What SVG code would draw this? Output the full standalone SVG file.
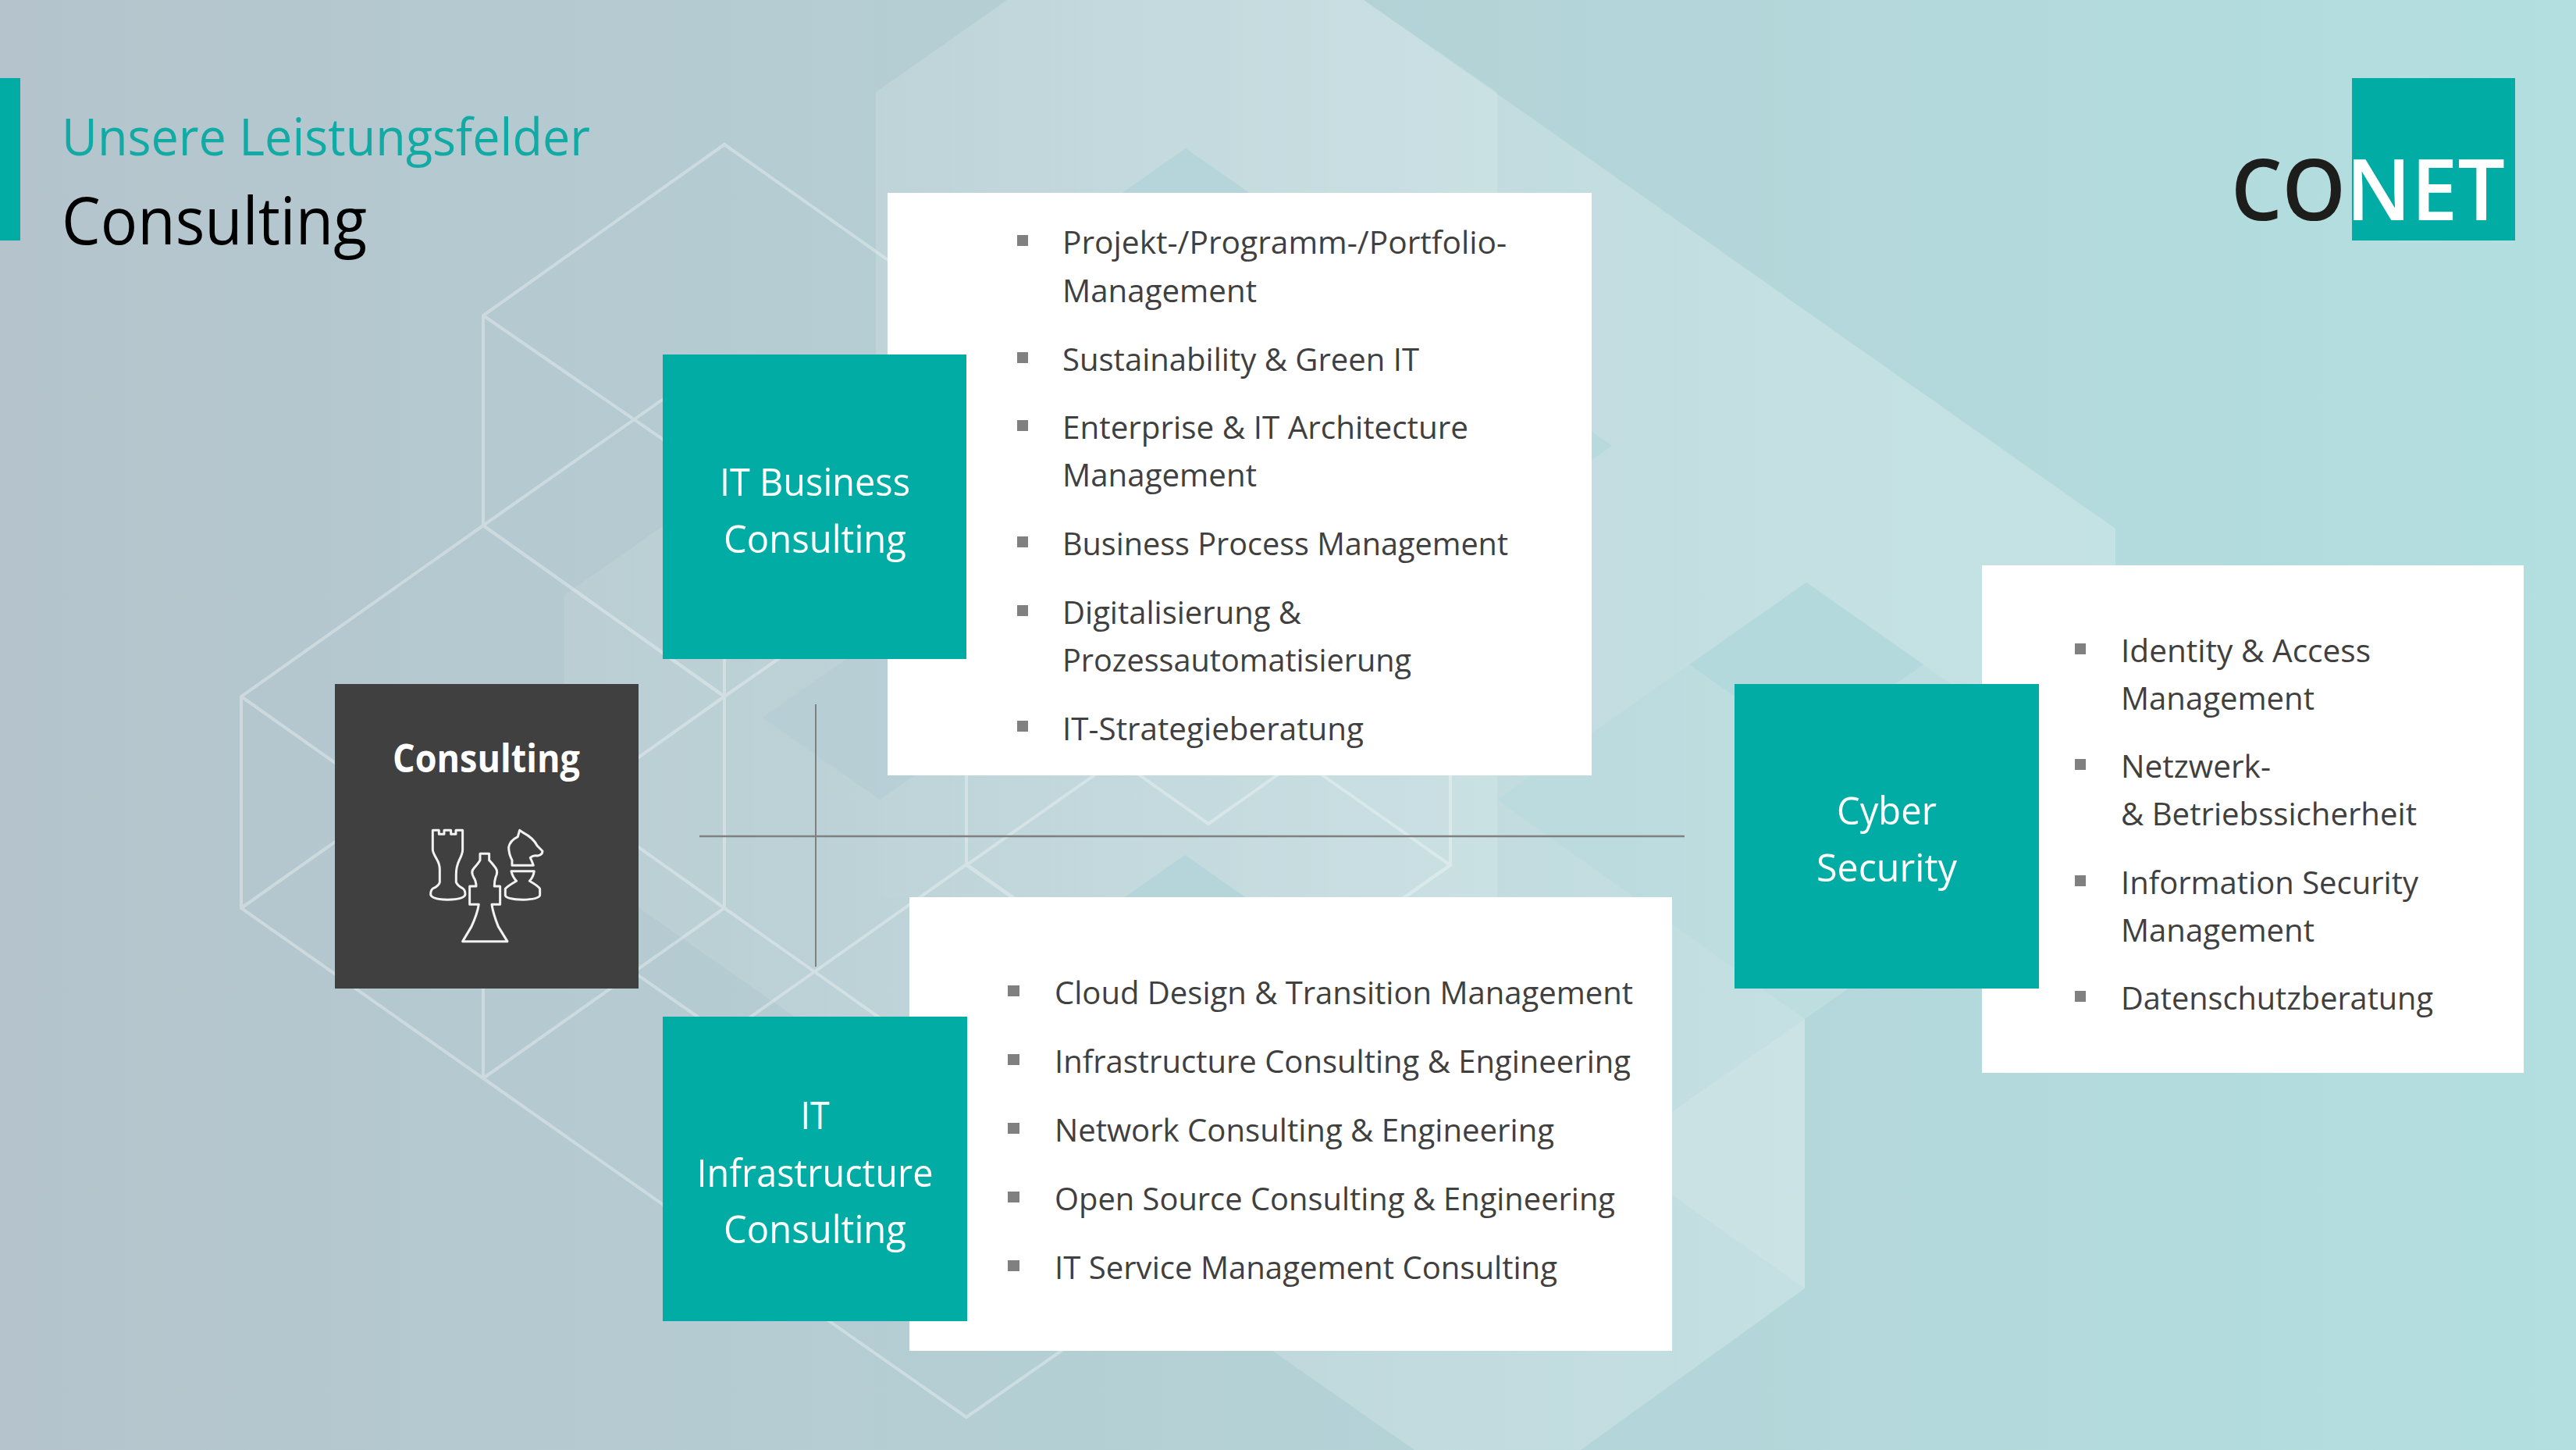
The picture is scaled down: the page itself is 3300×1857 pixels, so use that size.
<svg xmlns="http://www.w3.org/2000/svg" width="3300" height="1857" viewBox="0 0 3300 1857">
<defs>
<linearGradient id="bg" gradientUnits="userSpaceOnUse" x1="0" y1="0" x2="3300" y2="0"><stop offset="0" stop-color="#b5c4cc"/><stop offset="1" stop-color="#b3dfe0"/></linearGradient>
<linearGradient id="env" gradientUnits="userSpaceOnUse" x1="723" y1="0" x2="2300" y2="0"><stop offset="0" stop-color="#fff" stop-opacity=".08"/><stop offset="1" stop-color="#fff" stop-opacity=".22"/></linearGradient>
<linearGradient id="top" gradientUnits="userSpaceOnUse" x1="1122" y1="0" x2="1918" y2="0"><stop offset="0" stop-color="#fff" stop-opacity=".02"/><stop offset="1" stop-color="#fff" stop-opacity=".14"/></linearGradient>
</defs>
<style>
text{font-family:"Open Sans","Liberation Sans",sans-serif}
.wire{fill:none;stroke:#fff;opacity:.32;stroke-width:4}
.panel{fill:#fff}
.teal{fill:#01aca5}
.lab{font-size:50px;fill:#fff;text-anchor:middle}
.li{font-size:41px;fill:#404040}
.bul{fill:#808080}
.conn{stroke:#808080;fill:none}
.chess{fill:none;stroke:#f2f2f2;stroke-width:9;stroke-linejoin:round}
</style>
<g id="background">
<rect width="3300" height="1857" fill="url(#bg)"/>
<polygon fill="url(#env)" points="1290,0 1747,0 2710,677 2710,1026 2312,1305 2312,1650 2025,1857 1812,1857 723,1096 723,762 1122,483 1122,118"/>
<polygon fill="url(#top)" points="1290,0 1747,0 1918,118 1918,1150 1122,1150 1122,118"/>
<polygon fill="#b3d9dc" fill-opacity=".4" points="2314,746 2710,1024 2312,1305 1918,1024"/>
<polygon fill="#b3d8dc" fill-opacity=".85" points="2314,746 2464,851 2314,956 2164,851"/>
<polygon fill="#b3d3d9" fill-opacity=".85" points="1519,190 1669,295 1519,400 1369,295"/>
<polygon fill="#b3d3d9" fill-opacity=".85" points="1518,1095 1668,1200 1518,1305 1368,1200"/>
<polygon fill="#b5cdd4" fill-opacity=".8" points="1127,814 1277,919 1127,1024 977,919"/>
<polygon fill="#b8dadd" points="1915,466 2065,571 1915,676 1765,571"/>
<polygon fill="#fff" fill-opacity=".12" points="2312,1305 2312,1650 2066,1477"/>
<g class="wire">
<polygon points="619,673 928,892 928,1163 619,1381 309,1163 309,892"/>
<polyline points="309,892 619,1111 928,892"/>
<polyline points="309,1163 619,944 928,1163"/>
<line x1="619" y1="1111" x2="619" y2="1381"/>
<polygon points="928,185 1238,404 1238,676 928,892 619,673 619,404"/>
<polyline points="619,404 928,617 1238,404"/>
<polyline points="619,673 928,456 1238,676"/>
<line x1="928" y1="617" x2="928" y2="892"/>
<polygon points="1238,1107 1548,1326 1548,1598 1238,1815 928,1598 928,1326"/>
<polyline points="619,1111 928,1326"/>
<polyline points="928,1163 1238,1382"/>
<polyline points="619,1381 928,1598"/>
<polygon points="1548,617 1858,836 1858,1108 1548,1325 1238,1108 1238,836"/>
<polyline points="1238,836 1548,1055 1858,836"/>
<polygon points="1548,890 1858,1108 1548,1325 1238,1108"/>
</g>
</g>
<rect id="accent-bar" class="teal" x="0" y="100" width="26" height="208"/>
<g id="title">
<text x="79" y="199" font-size="65" fill="#12aaa4" textLength="677" lengthAdjust="spacingAndGlyphs">Unsere Leistungsfelder</text>
<text x="79" y="313" font-size="84" fill="#000" textLength="391" lengthAdjust="spacingAndGlyphs">Consulting</text>
</g>
<g id="logo">
<rect class="teal" x="3013" y="100" width="209" height="208"/>
<text y="282" font-size="108" font-weight="600"><tspan x="2858" fill="#1d1d1b" textLength="147" lengthAdjust="spacingAndGlyphs">CO</tspan><tspan x="3005" fill="#fff" textLength="204" lengthAdjust="spacingAndGlyphs">NET</tspan></text>
</g>
<g id="connectors">
<line class="conn" x1="896" y1="1071" x2="2158" y2="1071" stroke-width="2.5"/>
<line class="conn" x1="1045" y1="902" x2="1045" y2="1238" stroke-width="2"/>
</g>
<g id="list-it-business">
<rect class="panel" x="1137" y="247" width="902" height="746"/>
<rect class="bul" x="1303" y="301" width="14" height="14"/>
<text class="li" x="1361" y="325" textLength="569" lengthAdjust="spacingAndGlyphs">Projekt-/Programm-/Portfolio-</text>
<text class="li" x="1361" y="387" textLength="249" lengthAdjust="spacingAndGlyphs">Management</text>
<rect class="bul" x="1303" y="451" width="14" height="14"/>
<text class="li" x="1361" y="475" textLength="457" lengthAdjust="spacingAndGlyphs">Sustainability &amp; Green IT</text>
<rect class="bul" x="1303" y="538" width="14" height="14"/>
<text class="li" x="1361" y="562" textLength="520" lengthAdjust="spacingAndGlyphs">Enterprise &amp; IT Architecture</text>
<text class="li" x="1361" y="623" textLength="249" lengthAdjust="spacingAndGlyphs">Management</text>
<rect class="bul" x="1303" y="687" width="14" height="14"/>
<text class="li" x="1361" y="711" textLength="571" lengthAdjust="spacingAndGlyphs">Business Process Management</text>
<rect class="bul" x="1303" y="775" width="14" height="14"/>
<text class="li" x="1361" y="799" textLength="306" lengthAdjust="spacingAndGlyphs">Digitalisierung &amp;</text>
<text class="li" x="1361" y="860" textLength="447" lengthAdjust="spacingAndGlyphs">Prozessautomatisierung</text>
<rect class="bul" x="1303" y="923" width="14" height="14"/>
<text class="li" x="1361" y="948" textLength="386" lengthAdjust="spacingAndGlyphs">IT-Strategieberatung</text>
</g>
<g id="list-it-infrastructure">
<rect class="panel" x="1165" y="1149" width="977" height="581"/>
<rect class="bul" x="1291" y="1262" width="15" height="14"/>
<text class="li" x="1351" y="1286" textLength="741" lengthAdjust="spacingAndGlyphs">Cloud Design &amp; Transition Management</text>
<rect class="bul" x="1291" y="1350" width="15" height="14"/>
<text class="li" x="1351" y="1374" textLength="738" lengthAdjust="spacingAndGlyphs">Infrastructure Consulting &amp; Engineering</text>
<rect class="bul" x="1291" y="1438" width="15" height="14"/>
<text class="li" x="1351" y="1462" textLength="640" lengthAdjust="spacingAndGlyphs">Network Consulting &amp; Engineering</text>
<rect class="bul" x="1291" y="1526" width="15" height="14"/>
<text class="li" x="1351" y="1550" textLength="718" lengthAdjust="spacingAndGlyphs">Open Source Consulting &amp; Engineering</text>
<rect class="bul" x="1291" y="1614" width="15" height="14"/>
<text class="li" x="1351" y="1638" textLength="644" lengthAdjust="spacingAndGlyphs">IT Service Management Consulting</text>
</g>
<g id="list-cyber-security">
<rect class="panel" x="2539" y="724" width="694" height="650"/>
<rect class="bul" x="2658" y="824" width="14" height="14"/>
<text class="li" x="2717" y="848" textLength="320" lengthAdjust="spacingAndGlyphs">Identity &amp; Access</text>
<text class="li" x="2717" y="909" textLength="248" lengthAdjust="spacingAndGlyphs">Management</text>
<rect class="bul" x="2658" y="972" width="14" height="14"/>
<text class="li" x="2717" y="996" textLength="192" lengthAdjust="spacingAndGlyphs">Netzwerk-</text>
<text class="li" x="2717" y="1057" textLength="379" lengthAdjust="spacingAndGlyphs">&amp; Betriebssicherheit</text>
<rect class="bul" x="2658" y="1121" width="14" height="14"/>
<text class="li" x="2717" y="1145" textLength="381" lengthAdjust="spacingAndGlyphs">Information Security</text>
<text class="li" x="2717" y="1206" textLength="248" lengthAdjust="spacingAndGlyphs">Management</text>
<rect class="bul" x="2658" y="1269" width="14" height="14"/>
<text class="li" x="2717" y="1293" textLength="400" lengthAdjust="spacingAndGlyphs">Datenschutzberatung</text>
</g>
<g id="node-consulting">
<rect x="429" y="876" width="389" height="390" fill="#404040"/>
<text x="623" y="989" font-size="50" font-weight="700" fill="#fff" text-anchor="middle" textLength="240" lengthAdjust="spacingAndGlyphs">Consulting</text>
<g class="chess" transform="translate(400 850) scale(.3333)">
<path d="M463 640H487V655H507V640H533V655H552V640H578V715Q578 730 565 755Q553 780 553 810V840Q560 855 578 863Q588 870 588 885Q588 905 520 907Q455 905 455 885Q455 870 465 863Q485 855 490 840V790Q490 770 478 750Q463 725 463 715Z"/>
<path d="M645 730H680V755Q690 765 705 785Q715 800 705 820Q700 835 700 855H722V925H690Q695 960 715 1010L750 1067H578L612 1010Q635 960 640 925H605V855H630Q630 835 620 820Q608 800 622 785Q640 765 645 755Z"/>
<path d="M797 640L812 650Q850 670 865 700L885 720Q885 735 865 738Q850 735 838 745Q845 760 850 775H768V755Q755 730 755 705Q760 680 790 665Z"/>
<path d="M765 797H853Q850 820 835 835Q870 855 875 865V890Q870 905 810 907Q745 905 742 890V865Q750 855 785 835Q770 820 765 797Z"/>
</g>
</g>
<g id="node-it-business">
<rect class="teal" x="849" y="454" width="389" height="390"/>
<text class="lab" x="1044" y="635" textLength="244" lengthAdjust="spacingAndGlyphs">IT Business</text>
<text class="lab" x="1044" y="708" textLength="234" lengthAdjust="spacingAndGlyphs">Consulting</text>
</g>
<g id="node-it-infrastructure">
<rect class="teal" x="849" y="1302" width="390" height="390"/>
<text class="lab" x="1044" y="1446" textLength="37" lengthAdjust="spacingAndGlyphs">IT</text>
<text class="lab" x="1044" y="1520" textLength="303" lengthAdjust="spacingAndGlyphs">Infrastructure</text>
<text class="lab" x="1044" y="1592" textLength="234" lengthAdjust="spacingAndGlyphs">Consulting</text>
</g>
<g id="node-cyber-security">
<rect class="teal" x="2222" y="876" width="390" height="390"/>
<text class="lab" x="2417" y="1056" textLength="128" lengthAdjust="spacingAndGlyphs">Cyber</text>
<text class="lab" x="2417" y="1129" textLength="180" lengthAdjust="spacingAndGlyphs">Security</text>
</g>
</svg>
